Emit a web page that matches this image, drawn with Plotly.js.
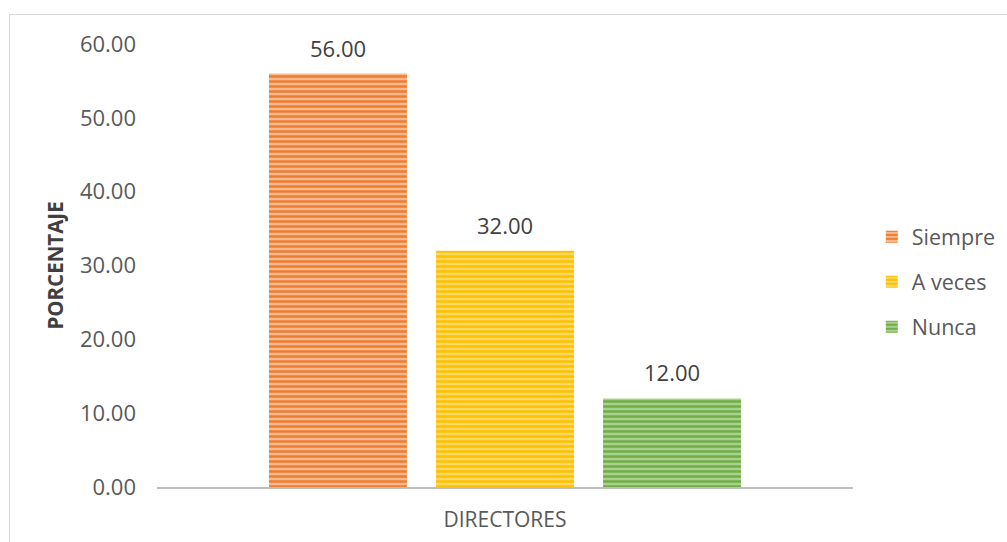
<!DOCTYPE html>
<html>
<head>
<meta charset="utf-8">
<script src="https://cdn.plot.ly/plotly-3.0.1.min.js"></script>
<style>
html,body{margin:0;padding:0;background:#fff;}
#wrap{position:relative;width:1007px;height:542px;overflow:hidden;}
#frame{position:absolute;left:9px;top:14px;width:1010px;height:560px;border:1px solid #d9d9d9;box-sizing:border-box;pointer-events:none;}
#chart{position:absolute;left:0;top:0;width:1007px;height:542px;}
</style>
</head>
<body>
<div id="wrap"><div id="chart"></div><div id="frame"></div></div>
<script>
const categories = ["DIRECTORES"];
const seriesNames = ["Siempre", "A veces", "Nunca"];
const seriesValues = [[56.00], [32.00], [12.00]];
const tickValues = [0, 10, 20, 30, 40, 50, 60];
const tickLabels = ["0.00", "10.00", "20.00", "30.00", "40.00", "50.00", "60.00"];
const fgColors = ["#ED7D31", "#FFC000", "#70AD47"];
const bgColors = ["#F8B98E", "#FFD966", "#A9D08E"];

const BARGAP = 0.28;
const n = seriesNames.length;

const traces = seriesNames.map((name, i) => ({
  type: "bar",
  name: name,
  x: categories,
  y: seriesValues[i],
  legendgroup: "g" + i,
  marker: {
    color: fgColors[i],
    line: {width: 0},
    pattern: {shape: "-", fgcolor: fgColors[i], bgcolor: bgColors[i], size: 5, solidity: 0.5, fillmode: "replace"}
  },
  hoverinfo: "none"
}));

// data labels: one per bar, positioned at the bar's group slot (category index + slot offset)
const annotations = [];
seriesNames.forEach((name, i) => {
  seriesValues[i].forEach((v, j) => {
    annotations.push({
      xref: "x", yref: "y",
      x: j + (i - (n - 1) / 2) * (1 - BARGAP) / n,
      y: v,
      text: v.toFixed(2),
      showarrow: false,
      yanchor: "middle",
      yshift: 26,
      font: {family: "Open Sans", size: 22, color: "#404040"}
    });
  });
});

const layout = {
  width: 1007, height: 542,
  margin: {l: 157, r: 154, t: 44, b: 55, autoexpand: false},
  paper_bgcolor: "#fff", plot_bgcolor: "#fff",
  font: {family: "Open Sans", size: 21, color: "#595959"},
  barmode: "group",
  bargap: BARGAP,
  bargroupgap: 0.174,
  showlegend: true,
  legend: {
    x: 1.027, xanchor: "left", y: 0.463, yanchor: "middle",
    traceorder: "grouped", tracegroupgap: 14,
    font: {family: "Open Sans", size: 21.5, color: "#595959"},
    itemwidth: 30
  },
  annotations: annotations,
  xaxis: {
    type: "category",
    showgrid: false, zeroline: false,
    showline: true, linecolor: "#bfbfbf", linewidth: 2,
    ticks: "", ticklabelstandoff: 13,
    tickfont: {family: "Open Sans", size: 21, color: "#595959"},
    fixedrange: true
  },
  yaxis: {
    range: [0, 60],
    tickvals: tickValues, ticktext: tickLabels,
    showgrid: false, zeroline: false, showline: false,
    ticks: "", ticklabelstandoff: 20,
    tickfont: {family: "Open Sans", size: 22, color: "#595959"},
    title: {text: "<b>PORCENTAJE</b>", font: {family: "Open Sans", size: 20.5, color: "#404040"}, standoff: 10},
    fixedrange: true
  }
};

Plotly.newPlot("chart", traces, layout, {displayModeBar: false, staticPlot: true});
</script>
</body>
</html>
